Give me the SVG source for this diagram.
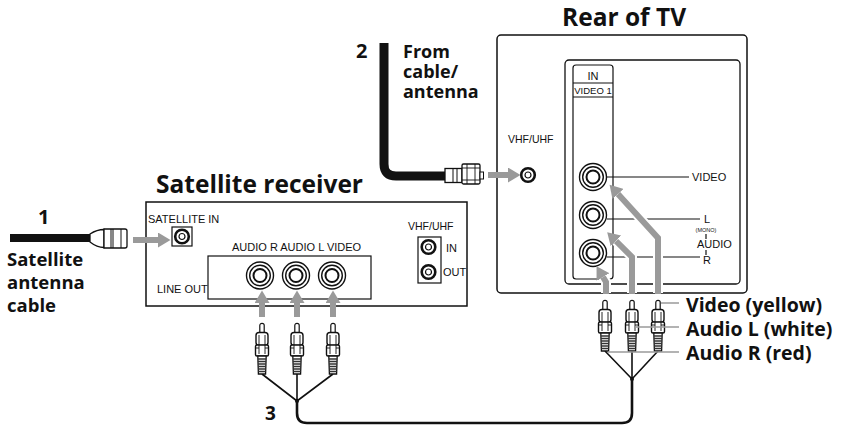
<svg xmlns="http://www.w3.org/2000/svg" xmlns:xlink="http://www.w3.org/1999/xlink" width="848" height="426" viewBox="0 0 848 426">
<style>
.big{font-family:"Open Sans","Noto Sans",sans-serif;font-weight:bold;fill:#111}
.sm{font-family:"Liberation Sans",Arial,sans-serif;fill:#111}
.box{fill:#fff;stroke:#111;stroke-width:1.5}
.ln{fill:none;stroke:#111;stroke-width:1.2}
.arr{fill:none;stroke:#9a9a9a;stroke-width:6;marker-end:url(#ah)}
.halo{fill:none;stroke:#fff;stroke-width:10}
.gl{fill:none;stroke:#9a9a9a;stroke-width:1.5}
.wire{fill:none;stroke:#111;stroke-width:1.6}
</style>
<defs>
<marker id="ah" markerUnits="userSpaceOnUse" markerWidth="13" markerHeight="15" refX="0" refY="7.5" orient="auto" viewBox="0 0 13 15"><path d="M0,0 L12.5,7.5 L0,15 z" fill="#9a9a9a"/></marker>
<g id="rca">
<circle r="13.5" fill="#fff" stroke="#111" stroke-width="1.4"/>
<circle r="10.3" fill="none" stroke="#111" stroke-width="1.4"/>
<circle r="6.5" fill="#fff" stroke="#111" stroke-width="2"/>
</g>
<g id="coax">
<circle r="6.8" fill="#fff" stroke="#111" stroke-width="2.6"/>
<circle r="3" fill="#fff" stroke="#111" stroke-width="1.2"/>
</g>
<g id="plug">
<path d="M-2.2,10 V2.5 a2.2,2.2 0 0 1 4.4,0 V10" fill="#fff" stroke="#111" stroke-width="1.2"/>
<rect x="-6" y="9.5" width="12" height="13" rx="3" fill="#fff" stroke="#111" stroke-width="1.4"/>
<rect x="-6.5" y="22" width="13" height="11" rx="1.5" fill="#fff" stroke="#111" stroke-width="1.4"/>
<path d="M-3,12 V31 M3,12 V31 M-6.5,25 H-3 M3,25 H6.5" fill="none" stroke="#111" stroke-width="0.9"/>
<path d="M-4.2,33 L-3.6,51 H3.6 L4.2,33 z" fill="#fff" stroke="#111" stroke-width="1.3"/>
<path d="M-4,36 H4 M-4,38.5 H4 M-3.9,41 H3.9 M-3.9,43.5 H3.9 M-3.8,46 H3.8 M-3.7,48.5 H3.7" stroke="#333" stroke-width="1.3"/>
</g>
</defs>

<!-- Satellite receiver -->
<g id="satellite-receiver">
<text class="big" x="156" y="193" font-size="24.5">Satellite receiver</text>
<rect class="box" x="146" y="202" width="321" height="104"/>
<text class="sm" x="148" y="223" font-size="11">SATELLITE IN</text>
<rect x="172" y="227" width="20" height="19" fill="#fff" stroke="#111" stroke-width="1.2"/>
<use xlink:href="#coax" x="182" y="236.5"/>
<text class="sm" x="232" y="251" font-size="11">AUDIO R AUDIO L  VIDEO</text>
<rect x="208" y="256" width="163" height="43" fill="none" stroke="#111" stroke-width="1.2"/>
<text class="sm" x="157" y="293" font-size="11">LINE OUT</text>
<use xlink:href="#rca" x="260" y="275.5"/>
<use xlink:href="#rca" x="296" y="275.5"/>
<use xlink:href="#rca" x="332" y="275.5"/>
<text class="sm" x="408" y="230" font-size="10.5">VHF/UHF</text>
<rect x="418" y="237" width="23" height="46" fill="#fff" stroke="#111" stroke-width="1.2"/>
<use xlink:href="#coax" x="428.5" y="247"/>
<use xlink:href="#coax" x="428.5" y="272"/>
<text class="sm" x="446" y="252" font-size="11">IN</text>
<text class="sm" x="443" y="276" font-size="11">OUT</text>
</g>

<!-- TV -->
<g id="tv">
<text class="big" x="562" y="26" font-size="24.5">Rear of TV</text>
<rect class="box" x="497" y="35" width="250" height="258" rx="4"/>
<rect x="565" y="60" width="175" height="224" rx="4" fill="none" stroke="#111" stroke-width="1.3"/>
<rect x="573" y="65" width="40" height="214" rx="3" fill="none" stroke="#111" stroke-width="1.2"/>
<line class="ln" x1="573" y1="83" x2="613" y2="83"/>
<line class="ln" x1="573" y1="97" x2="613" y2="97"/>
<text class="sm" x="593" y="80" font-size="11" text-anchor="middle">IN</text>
<text class="sm" x="593" y="94" font-size="9.5" text-anchor="middle">VIDEO 1</text>
<text class="sm" x="508" y="143" font-size="10.5">VHF/UHF</text>
<use xlink:href="#coax" x="528" y="175"/>
<line class="ln" x1="607" y1="177" x2="689" y2="177"/>
<line class="ln" x1="607" y1="219" x2="700" y2="219"/>
<line class="ln" x1="607" y1="257" x2="700" y2="257"/>
<use xlink:href="#rca" x="593" y="177"/>
<use xlink:href="#rca" x="593" y="215"/>
<use xlink:href="#rca" x="593" y="253"/>
<text class="sm" x="692" y="181" font-size="11">VIDEO</text>
<text class="sm" x="707" y="223" font-size="11" text-anchor="middle">L</text>
<text class="sm" x="706" y="231.5" font-size="5.5" text-anchor="middle">(MONO)</text>
<line class="ln" x1="706" y1="234" x2="706" y2="239"/>
<text class="sm" x="697" y="248" font-size="11">AUDIO</text>
<line class="ln" x1="706" y1="250" x2="706" y2="255"/>
<text class="sm" x="707" y="264" font-size="11" text-anchor="middle">R</text>
</g>

<!-- cable 1 -->
<g id="cable-1">
<line x1="10" y1="238" x2="92" y2="238" stroke="#111" stroke-width="8"/>
<path d="M90,234 Q97,229.5 104,229.5 V247.5 Q97,247.5 90,242 z" fill="#fff" stroke="#111" stroke-width="1.3"/>
<path d="M104,229 H125 Q127,229 127,231 V246 Q127,248 125,248 H104 z" fill="#fff" stroke="#111" stroke-width="1.3"/>
<path d="M111,229 V248 M113,229 V248 M121,229 V248" stroke="#111" stroke-width="1"/>
<text class="big" x="38" y="224" font-size="20">1</text>
<text class="big" x="7" y="266" font-size="18.5">Satellite</text>
<text class="big" x="7" y="289" font-size="18.5">antenna</text>
<text class="big" x="7" y="312" font-size="18.5">cable</text>
</g>

<!-- cable 2 -->
<g id="cable-2">
<path d="M384,43 V164 Q384,176 396,176 H446" fill="none" stroke="#111" stroke-width="9"/>
<rect x="445" y="168.5" width="17" height="14" fill="#fff" stroke="#111" stroke-width="1.3"/>
<path d="M453,168.5 V182.5 M457,168.5 V182.5" stroke="#111" stroke-width="1"/>
<rect x="462" y="164" width="18" height="20" rx="1.5" fill="#fff" stroke="#111" stroke-width="1.3"/>
<path d="M467,164 V184 M475,164 V184 M462,168 H480 M462,180 H480" stroke="#111" stroke-width="0.9"/>
<rect x="480" y="172" width="3.5" height="7" fill="#fff" stroke="#111" stroke-width="1"/>
<text class="big" x="356" y="58" font-size="20">2</text>
<text class="big" x="403" y="58" font-size="18">From</text>
<text class="big" x="403" y="78" font-size="18">cable/</text>
<text class="big" x="403" y="98" font-size="18">antenna</text>
</g>

<!-- cable 3 -->
<g id="cable-3">
<path class="wire" d="M262,374 L297,401 M297,374 V401 M333,374 L297,401"/>
<path class="wire" d="M605,351 L632,379 M632,351 V379 M658,351 L632,379"/>
<path d="M297,401 V413 Q297,423 307,423 H622 Q632,423 632,413 V379" fill="none" stroke="#111" stroke-width="2.6"/>
<circle cx="297" cy="401" r="2" fill="#111"/>
<circle cx="632" cy="379" r="2" fill="#111"/>
<use xlink:href="#plug" x="262" y="323"/>
<use xlink:href="#plug" x="297" y="323"/>
<use xlink:href="#plug" x="333" y="323"/>
<use xlink:href="#plug" x="605" y="300"/>
<use xlink:href="#plug" x="632" y="300"/>
<use xlink:href="#plug" x="658" y="300"/>
<text class="big" x="265" y="420" font-size="19">3</text>
<path class="gl" d="M661,303 H679 M635,327 H679 M608,352 H679"/>
<text class="big" x="686" y="312" font-size="19.5">Video (yellow)</text>
<text class="big" x="686" y="336" font-size="19.5">Audio L (white)</text>
<text class="big" x="686" y="360" font-size="19.5">Audio R (red)</text>
</g>

<!-- connectors (arrows) -->
<g id="connectors">
<path class="arr" d="M133,240 H158"/>
<path class="arr" d="M262,317 V303"/>
<path class="arr" d="M297,317 V303"/>
<path class="arr" d="M333,317 V303"/>
<path class="arr" d="M488,175 H508"/>
<path class="halo" d="M658,293 V238 L618,194"/>
<path class="halo" d="M632,293 V257 L616,241"/>
<path class="halo" d="M606,293 V282 L603,277"/>
<path class="arr" d="M658,294 V238 L618,194"/>
<path class="arr" d="M632,294 V257 L616,241"/>
<path class="arr" d="M606,294 V282 L603,277"/>
</g>
</svg>
